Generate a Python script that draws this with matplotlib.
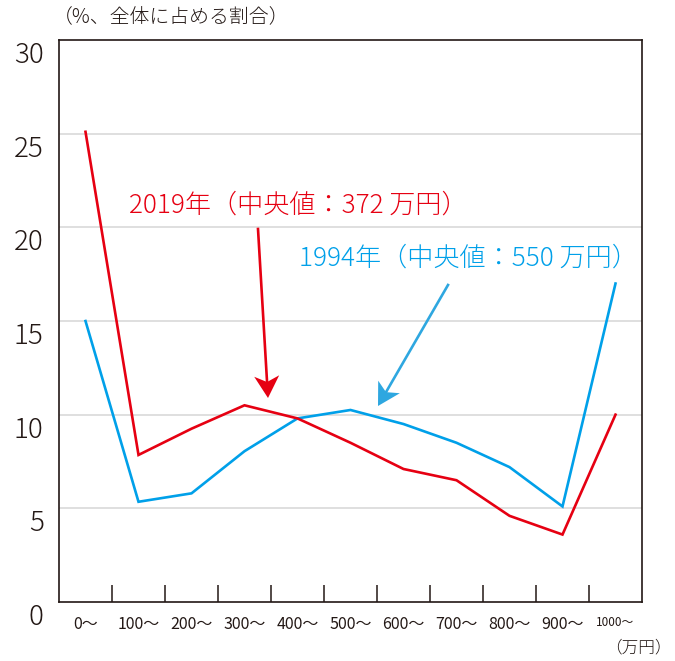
import matplotlib
matplotlib.use("Agg")
import numpy as np
import matplotlib.pyplot as plt
from matplotlib.transforms import ScaledTranslation
from matplotlib.patches import Polygon
from matplotlib.lines import Line2D

plt.rcParams['font.family'] = ['Noto Sans CJK JP', 'DejaVu Sans']

# ---- data ----
categories = ["0〜", "100〜", "200〜", "300〜", "400〜", "500〜", "600〜",
              "700〜", "800〜", "900〜", "1000〜"]
share_2019 = [25.1, 7.85, 9.25, 10.5, 9.8, 8.5, 7.1, 6.5, 4.6, 3.6, 10.0]
share_1994 = [15.0, 5.35, 5.8, 8.05, 9.8, 10.25, 9.5, 8.5, 7.2, 5.1, 17.0]
y_ticks = [0, 5, 10, 15, 20, 25, 30]
label_2019 = "2019年（中央値：372 万円）"
label_1994 = "1994年（中央値：550 万円）"
y_title = "（%、全体に占める割合）"
x_unit = "（万円）"

RED = "#e60012"
BLUE = "#00a0e9"
BLUE_ARROW = "#2ea7e0"
DARK = "#231815"

W, H = 675, 661
fig = plt.figure(figsize=(W / 100, H / 100), dpi=100)
ax = fig.add_axes([59 / W, 1 - 602 / H, (642 - 59) / W, (602 - 40) / H])

x = list(range(len(categories)))
ax.plot(x, share_1994, color=BLUE, lw=1.9, solid_joinstyle='miter', zorder=3)
ax.plot(x, share_2019, color=RED, lw=1.9, solid_joinstyle='miter', zorder=4)

ax.set_xlim(-0.5, len(categories) - 0.5)
ax.set_ylim(0, 30)

# grid
for v in y_ticks[1:-1]:
    ax.axhline(v, color="#d9d9d9", lw=1.2, zorder=1)

for s in ax.spines.values():
    s.set_color(DARK)
    s.set_linewidth(1.2)

# y ticks
ax.set_yticks(y_ticks)
ax.set_yticklabels([str(v) for v in y_ticks])
ax.tick_params(axis='y', length=0, pad=11, labelsize=20, labelcolor=DARK)
off = ScaledTranslation(0, -12 / 100, fig.dpi_scale_trans)
for lab in ax.get_yticklabels():
    lab.set_fontweight('light')
    lab.set_transform(lab.get_transform() + off)

# x ticks: labels at centers, marks at boundaries
ax.set_xticks(x)
ax.set_xticklabels(categories)
ax.tick_params(axis='x', which='major', length=0, pad=10, labelsize=11.5,
               labelcolor=DARK)
ax.get_xticklabels()[-1].set_fontsize(8.5)
ax.set_xticks([i + 0.5 for i in x[:-1]], minor=True)
ax.tick_params(axis='x', which='minor', direction='in', length=12,
               width=1.1, color=DARK)

# texts
fig.text(53 / W, 1 - 18 / H, y_title, fontsize=14.3, color=DARK,
         ha='left', va='center', fontweight='light')
fig.text(672 / W, 1 - 648 / H, x_unit, fontsize=12, color=DARK,
         ha='right', va='center', fontweight='light')
fig.text(129 / W, 1 - 205 / H, label_2019, fontsize=18.8, color=RED,
         ha='left', va='center', fontweight='light')
fig.text(299 / W, 1 - 258 / H, label_1994, fontsize=18.8, color=BLUE,
         ha='left', va='center', fontweight='light')


# arrows drawn in pixel space, converted to figure fraction
def arrow(p0, p1, color, head_len=22, head_w=25, notch=6):
    p0 = np.array(p0, float)
    p1 = np.array(p1, float)
    d = p1 - p0
    d /= np.hypot(*d)
    n = np.array([-d[1], d[0]])
    base = p1 - d * head_len
    left = base + n * head_w / 2
    right = base - n * head_w / 2
    nb = base + d * notch
    pts = np.array([p1, left, nb, right])
    conv = lambda p: (p[0] / W, 1 - p[1] / H)
    fig.add_artist(Line2D([conv(p0)[0], conv(nb)[0]], [conv(p0)[1], conv(nb)[1]],
                          transform=fig.transFigure, color=color, lw=1.9))
    fig.add_artist(Polygon([conv(p) for p in pts], closed=True,
                           transform=fig.transFigure, facecolor=color,
                           edgecolor='none'))


arrow((258, 229), (268, 398), RED)
arrow((448, 285), (378, 406), BLUE_ARROW)

fig.savefig("out.png", dpi=100)
